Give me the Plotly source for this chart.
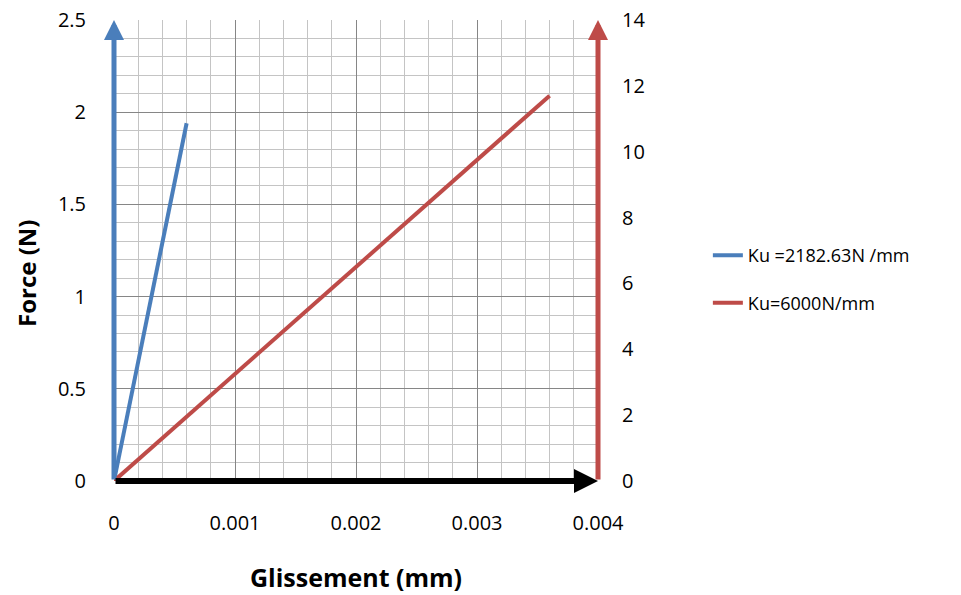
import plotly.graph_objects as go

# Data
blue_name = "Ku =2182.63N /mm"
red_name = "Ku=6000N/mm"
blue_x = [0, 0.0006]
blue_y = [0, 1.94]
red_x = [0, 0.0036]
red_y = [0, 11.7]

x_range = [0, 0.004]
y_range = [0, 2.5]
y2_range = [0, 14]

x_title = "Glissement (mm)"
y_title = "Force (N)"

BLUE = "#4a7ebb"
RED = "#be4b48"
FONT = "Open Sans"

fig = go.Figure()
fig.add_trace(go.Scatter(x=blue_x, y=blue_y, mode="lines", name=blue_name,
                         line=dict(color=BLUE, width=4), legendgroup="a"))
fig.add_trace(go.Scatter(x=red_x, y=red_y, mode="lines", name=red_name,
                         line=dict(color=RED, width=4), yaxis="y2", legendgroup="b"))

# axis arrows
def arrow(x, y, ax, ay, color, width):
    fig.add_annotation(x=x, y=y, ax=ax, ay=ay,
                       xref="x", yref="y", axref="x", ayref="y", text="",
                       showarrow=True, arrowhead=2, arrowsize=0.8, arrowwidth=width,
                       arrowcolor=color, standoff=0)

arrow(x_range[0], y_range[1], x_range[0], y_range[0], BLUE, 5)
arrow(x_range[1], y_range[1], x_range[1], y_range[0], RED, 5)
arrow(x_range[1], y_range[0], x_range[0], y_range[0], "black", 6)

tickfont = dict(family=FONT, size=20, color="black")
titlefont = dict(family=FONT, size=25, color="black", weight="bold")

# y-axis title (rotated text, slightly below axis centre like the reference)
fig.add_annotation(text=y_title, xref="paper", yref="paper", x=-0.182, y=0.451,
                   textangle=-90, showarrow=False,
                   font=dict(family=FONT, size=24, color="black", weight="bold"),
                   xanchor="center", yanchor="middle", borderpad=0)

fig.update_layout(
    width=961, height=595,
    margin=dict(l=114, r=363, t=20, b=114),
    paper_bgcolor="white", plot_bgcolor="white",
    showlegend=True,
    legend=dict(x=1.227, y=0.438, xanchor="left", yanchor="middle",
                font=dict(family=FONT, size=18, color="black"),
                tracegroupgap=21, bgcolor="rgba(0,0,0,0)"),
    xaxis=dict(range=x_range, dtick=0.001, tick0=0, showgrid=True,
               gridcolor="#868686", gridwidth=1,
               minor=dict(dtick=0.0002, showgrid=True, gridcolor="#c4c4c4", gridwidth=1),
               zeroline=False, showline=False, ticks="", automargin=False,
               tickfont=tickfont, ticklabelstandoff=28, ticklabeloverflow="allow",
               title=dict(text=x_title, font=titlefont, standoff=34)),
    yaxis=dict(range=y_range, dtick=0.5, tick0=0, showgrid=True,
               gridcolor="#868686", gridwidth=1,
               minor=dict(dtick=0.1, showgrid=True, gridcolor="#c4c4c4", gridwidth=1),
               zeroline=False, showline=False, ticks="", automargin=False,
               tickfont=tickfont, ticklabelstandoff=27, ticklabeloverflow="allow"),
    yaxis2=dict(range=y2_range, dtick=2, tick0=0, overlaying="y", side="right",
                showgrid=False, zeroline=False, showline=False, ticks="",
                automargin=False, tickfont=tickfont, ticklabelstandoff=23,
                ticklabeloverflow="allow"),
)

fig.write_html("out.html", config={"displayModeBar": False},
               post_script="document.body.style.margin='0';document.body.style.overflow='hidden';")
